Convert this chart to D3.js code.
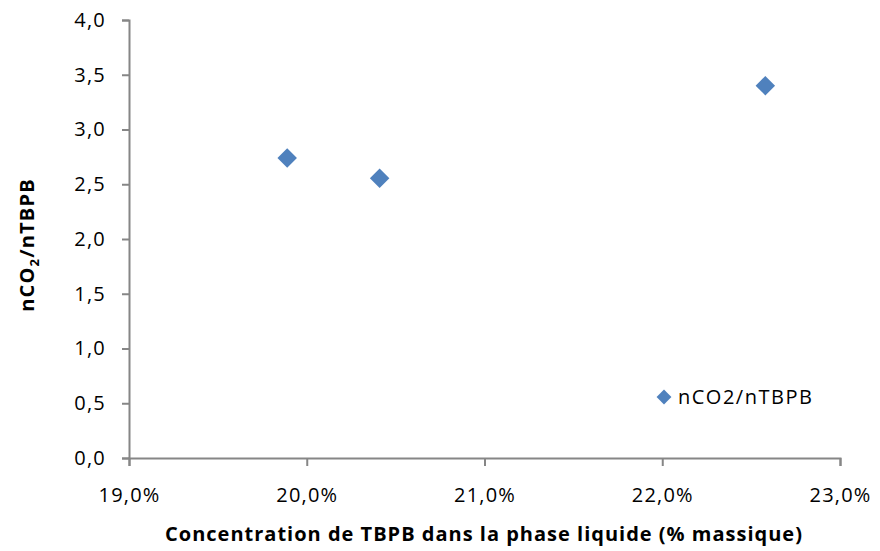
<!DOCTYPE html>
<html>
<head>
<meta charset="utf-8">
<script src="https://cdn.jsdelivr.net/npm/d3@7"></script>
<style>
  html, body { margin: 0; padding: 0; background: #fff; }
  svg { display: block; }
  text { font-family: "Open Sans", "Noto Sans", sans-serif; fill: #000; }
</style>
</head>
<body>
<svg id="chart" width="880" height="551"></svg>
<script>
const xValues = [0.1989, 0.2041, 0.2258];
const yValues = [2.74, 2.555, 3.40];
const seriesName = "nCO2/nTBPB";
const xTicks = [0.19, 0.20, 0.21, 0.22, 0.23];
const yTicks = [0, 0.5, 1.0, 1.5, 2.0, 2.5, 3.0, 3.5, 4.0];
const xTitle = "Concentration de TBPB dans la phase liquide (% massique)";

const svg = d3.select("#chart");
const x = d3.scaleLinear().domain([0.19, 0.23]).range([129, 840]);
const y = d3.scaleLinear().domain([0, 4]).range([458, 20]);
const axisColor = "#868686";
const fmtY = d => d3.format(".1f")(d).replace(".", ",");
const fmtX = d => d3.format(".1f")(d * 100).replace(".", ",") + "%";

const yAxis = svg.append("g").attr("transform", "translate(129,0)")
  .call(d3.axisLeft(y).tickValues(yTicks).tickFormat(fmtY).tickSize(7).tickPadding(16));
const xAxis = svg.append("g").attr("transform", "translate(0,458)")
  .call(d3.axisBottom(x).tickValues(xTicks).tickFormat(fmtX).tickSize(8).tickPadding(22));

[yAxis, xAxis].forEach(g => {
  g.select(".domain").attr("stroke", axisColor).attr("stroke-width", 2);
  g.selectAll(".tick line").attr("stroke", axisColor).attr("stroke-width", 2);
  g.selectAll(".tick text").attr("font-size", 20).attr("fill", "#000")
    .style("font-family", "'Open Sans', sans-serif").style("letter-spacing", "1.2px");
});

const diamond = d3.symbol().type(d3.symbolSquare).size(190);
svg.append("g").selectAll("path").data(xValues.map((v, i) => [v, yValues[i]]))
  .join("path")
  .attr("d", diamond)
  .attr("transform", d => `translate(${x(d[0])},${y(d[1])}) rotate(45)`)
  .attr("fill", "#4F81BD");

// legend
const lg = svg.append("g").attr("transform", "translate(664,397)");
lg.append("path").attr("d", d3.symbol().type(d3.symbolSquare).size(110)).attr("transform", "rotate(45)").attr("fill", "#4F81BD");
lg.append("text").attr("x", 14).attr("y", 7).attr("font-size", 20).style("letter-spacing", "1.5px").text(seriesName);

// axis titles
svg.append("text").attr("x", 484).attr("y", 541).attr("text-anchor", "middle")
  .attr("font-size", 20).attr("font-weight", "bold").style("letter-spacing", "1px").text(xTitle);

const yt = svg.append("text").attr("transform", "translate(34,245) rotate(-90)")
  .attr("text-anchor", "middle").attr("font-size", 20).attr("font-weight", "bold").style("letter-spacing", "1.2px");
yt.append("tspan").text("nCO");
yt.append("tspan").attr("font-size", 13).attr("dy", 5).text("2");
yt.append("tspan").attr("dy", -5).text("/nTBPB");
</script>
</body>
</html>
